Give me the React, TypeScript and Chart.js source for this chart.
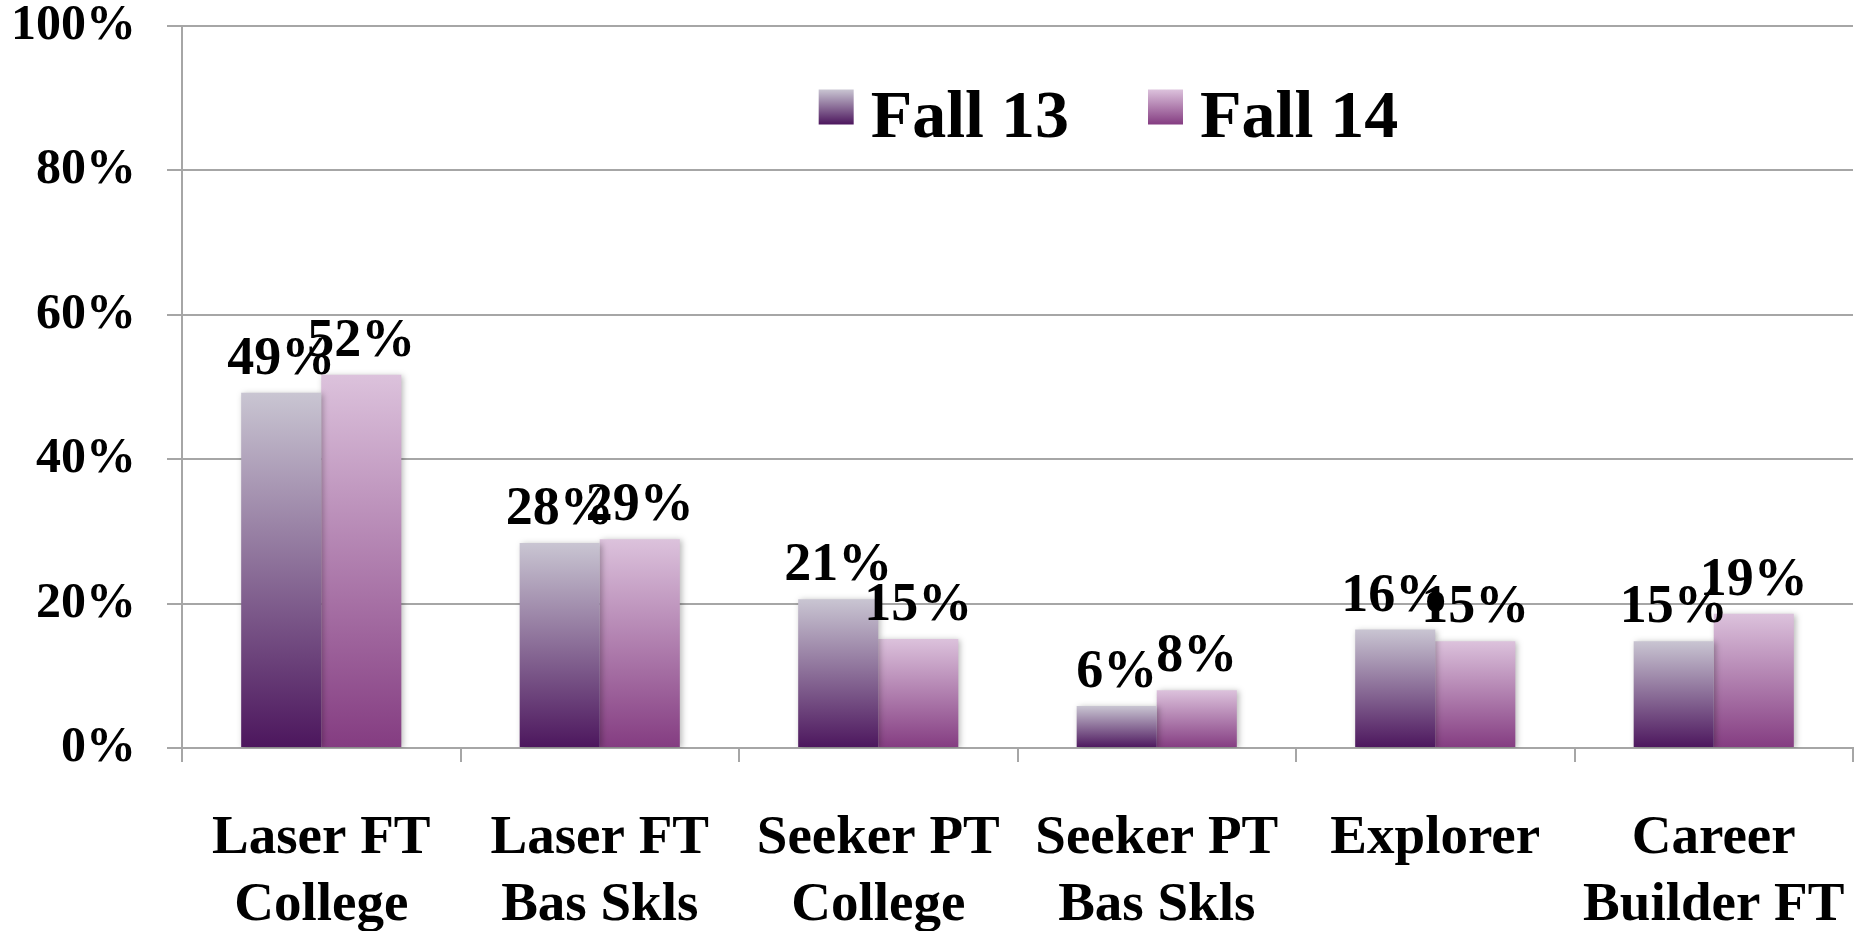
import React, { useEffect, useRef } from 'react';
import { Chart, registerables } from 'chart.js';

Chart.register(...registerables);

const categories: string[][] = [
  ['Laser FT', 'College'],
  ['Laser FT', 'Bas Skls'],
  ['Seeker PT', 'College'],
  ['Seeker PT', 'Bas Skls'],
  ['Explorer'],
  ['Career', 'Builder FT'],
];
const seriesNames = ['Fall 13', 'Fall 14'];
const fall13 = [49.2, 28.4, 20.6, 5.8, 16.4, 14.8];
const fall14 = [51.7, 28.9, 15.1, 8.0, 14.8, 18.6];
const yMin = 0;
const yMax = 100;
const yStep = 20;

const colorsTop = ['#c9c5d2', '#dcc2dc'];
const colorsBottom = ['#4c165d', '#843c81'];
const FONT = "'Liberation Serif', 'Times New Roman', serif";
const GRID = '#a6a6a6';

const gradientFor = (i: number) => (ctx: any) => {
  const chart = ctx.chart;
  if (!chart.chartArea || ctx.type !== 'data' || !chart.scales.y) return colorsBottom[i];
  const yScale = chart.scales.y;
  const top = yScale.getPixelForValue(ctx.raw);
  const bottom = yScale.getPixelForValue(0);
  if (!isFinite(top) || !isFinite(bottom) || top === bottom) return colorsBottom[i];
  const g = chart.ctx.createLinearGradient(0, top, 0, bottom);
  g.addColorStop(0, colorsTop[i]);
  g.addColorStop(1, colorsBottom[i]);
  return g;
};

const shadowPlugin = {
  id: 'barShadow',
  beforeDatasetsDraw(chart: any) {
    const c = chart.ctx;
    c.save();
    c.shadowColor = 'rgba(0,0,0,0.28)';
    c.shadowBlur = 6;
    c.shadowOffsetX = 2;
    c.shadowOffsetY = 1;
  },
  afterDatasetsDraw(chart: any) {
    chart.ctx.restore();
  },
};

const labelPlugin = {
  id: 'valueLabels',
  afterDatasetsDraw(chart: any) {
    const c = chart.ctx;
    c.save();
    c.font = `bold 54px ${FONT}`;
    c.fillStyle = '#000';
    c.textAlign = 'center';
    c.textBaseline = 'alphabetic';
    chart.data.datasets.forEach((ds: any, di: number) => {
      const meta = chart.getDatasetMeta(di);
      meta.data.forEach((el: any, i: number) => {
        const v = ds.data[i];
        c.fillText(`${Math.round(v)}%`, el.x, el.y - 19);
      });
    });
    c.restore();
  },
};

const legendPlugin = {
  id: 'customLegend',
  afterDraw(chart: any) {
    const c = chart.ctx;
    const area = chart.chartArea;
    c.save();
    c.font = `bold 68px ${FONT}`;
    const box = 35;
    const gapBoxText = 17;
    const gapItems = 79;
    const widths = seriesNames.map((n) => c.measureText(n).width);
    const total = widths.reduce((a, w) => a + box + gapBoxText + w, 0) + gapItems * (seriesNames.length - 1);
    const center = (area.left + area.right) / 2 + 91;
    let x = center - total / 2;
    const boxTop = area.top + 63.5;
    const baseline = area.top + 110.5;
    seriesNames.forEach((n, i) => {
      const g = c.createLinearGradient(0, boxTop, 0, boxTop + box);
      g.addColorStop(0, colorsTop[i]);
      g.addColorStop(1, colorsBottom[i]);
      c.fillStyle = g;
      c.fillRect(x, boxTop, box, box);
      x += box + gapBoxText;
      c.fillStyle = '#000';
      c.textAlign = 'left';
      c.textBaseline = 'alphabetic';
      c.fillText(n, x, baseline);
      x += widths[i] + gapItems;
    });
    c.restore();
  },
};

export default function App() {
  const ref = useRef<HTMLCanvasElement | null>(null);
  useEffect(() => {
    document.body.style.margin = '0';
    if (!ref.current) return;
    const chart = new Chart(ref.current, {
      type: 'bar',
      data: {
        labels: categories,
        datasets: [
          { label: seriesNames[0], data: fall13, backgroundColor: gradientFor(0), borderWidth: 0 },
          { label: seriesNames[1], data: fall14, backgroundColor: gradientFor(1), borderWidth: 0 },
        ],
      },
      options: {
        responsive: false,
        animation: false,
        devicePixelRatio: 1,
        layout: { padding: { top: 26, right: 9, bottom: 0, left: 0 } },
        datasets: { bar: { categoryPercentage: 0.575, barPercentage: 1.0 } },
        plugins: {
          legend: { display: false },
          tooltip: { enabled: false },
        },
        scales: {
          x: {
            grid: { display: true, drawOnChartArea: false, offset: true, color: GRID, lineWidth: 2, tickLength: 14 },
            border: { display: true, color: GRID, width: 2 },
            ticks: {
              color: '#000',
              font: { family: FONT, size: 55, weight: 'bold', lineHeight: 1.22 },
              padding: 43,
              maxRotation: 0,
              autoSkip: false,
            },
            afterFit: (s: any) => {
              s.height = 183;
              s.paddingLeft = 0;
              s.paddingRight = 0;
            },
          },
          y: {
            min: yMin,
            max: yMax,
            grid: { color: GRID, lineWidth: 2, tickLength: 15 },
            border: { display: true, color: GRID, width: 2 },
            ticks: {
              stepSize: yStep,
              color: '#000',
              font: { family: FONT, size: 50, weight: 'bold', lineHeight: 1.0 },
              padding: 31,
              callback: (v: any) => `${v}%`,
            },
            afterFit: (s: any) => {
              s.width = 182;
              s.paddingTop = 0;
              s.paddingBottom = 0;
            },
          },
        },
      },
      plugins: [shadowPlugin, labelPlugin, legendPlugin],
    } as any);
    return () => chart.destroy();
  }, []);
  return (
    <div style={{ width: 1862, height: 931, background: '#fff' }}>
      <canvas ref={ref} width={1862} height={931} style={{ display: 'block' }} />
    </div>
  );
}
